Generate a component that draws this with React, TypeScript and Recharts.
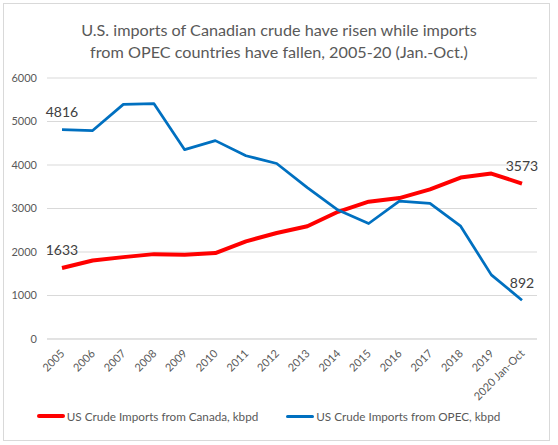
import React from "react";
import { CartesianGrid, LabelList, Legend, Line, LineChart, XAxis, YAxis } from "recharts";

const years = [
  "2005", "2006", "2007", "2008", "2009", "2010", "2011", "2012",
  "2013", "2014", "2015", "2016", "2017", "2018", "2019", "2020 Jan-Oct",
];
const canada = [1633, 1806, 1882, 1951, 1937, 1975, 2245, 2438, 2593, 2924, 3156, 3240, 3441, 3711, 3804, 3573];
const opec = [4816, 4792, 5394, 5409, 4352, 4560, 4213, 4035, 3480, 2963, 2655, 3171, 3118, 2593, 1474, 892];
const yTicks = [0, 1000, 2000, 3000, 4000, 5000, 6000];

const FONT = "Lato, 'Open Sans', sans-serif";
const TEXT = "#595959";
const RED = "#ff0000";
const BLUE = "#0070c0";

const data = years.map((year, i) => ({ year, canada: canada[i], opec: opec[i] }));
const last = years.length - 1;

const XTick = ({ x, y, payload }: any) => (
  <text
    x={x}
    y={y}
    transform={`rotate(-45, ${x}, ${y})`}
    textAnchor="end"
    dominantBaseline="central"
    fontSize={11}
    fontFamily={FONT}
    fill={TEXT}
  >
    {payload.value}
  </text>
);

// only first and last points carry a value label
const EndLabel = ({ x, y, value, index }: any) => {
  if (index !== 0 && index !== last) return null;
  return (
    <text x={x} y={y - 18} textAnchor="middle" dominantBaseline="central" fontSize={14} fontFamily={FONT} fill="#404040">
      {value}
    </text>
  );
};

const legendItems = [
  { label: "US Crude Imports from Canada, kbpd", color: RED, width: 4 },
  { label: "US Crude Imports from OPEC, kbpd", color: BLUE, width: 3 },
];

const LegendContent = () => (
  <div style={{ display: "flex", justifyContent: "center", gap: 28, height: 18, alignItems: "center" }}>
    {legendItems.map((item) => (
      <div key={item.label} style={{ display: "flex", alignItems: "center", fontFamily: FONT, fontSize: 11.7, color: TEXT }}>
        <span style={{ display: "inline-block", width: 28, height: item.width, background: item.color, borderRadius: 2, marginRight: 2 }} />
        {item.label}
      </div>
    ))}
  </div>
);

export default function App() {
  return (
    <div style={{ position: "absolute", left: 0, top: 0, width: 558, height: 445, background: "#fff" }}>
      <div style={{ position: "absolute", left: 3, top: 3, width: 545, height: 436, border: "1px solid #d9d9d9" }} />
      <div
        style={{
          position: "absolute",
          top: 19,
          left: 0,
          width: 558,
          textAlign: "center",
          fontFamily: FONT,
          fontSize: 16.2,
          lineHeight: "22px",
          color: TEXT,
        }}
      >
        U.S. imports of Canadian crude have risen while imports
        <br />
        from OPEC countries have fallen, 2005-20 (Jan.-Oct.)
      </div>
      <LineChart width={558} height={445} data={data} margin={{ top: 78, right: 21, left: 0, bottom: 20 }}>
        <CartesianGrid vertical={false} stroke="#d9d9d9" />
        <XAxis
          dataKey="year"
          interval={0}
          height={68}
          padding={{ left: 15, right: 15 }}
          tickLine={false}
          axisLine={{ stroke: "#d9d9d9" }}
          tick={<XTick />}
          tickMargin={6}
        />
        <YAxis
          width={47}
          domain={[0, 6000]}
          ticks={yTicks}
          axisLine={false}
          tickLine={false}
          tickSize={0}
          tickMargin={10}
          tick={{ fontSize: 11, fontFamily: FONT, fill: TEXT }}
        />
        <Legend verticalAlign="bottom" content={<LegendContent />} />
        <Line dataKey="canada" stroke={RED} strokeWidth={4} dot={false} isAnimationActive={false} strokeLinejoin="round">
          <LabelList dataKey="canada" content={<EndLabel />} />
        </Line>
        <Line dataKey="opec" stroke={BLUE} strokeWidth={2.75} dot={false} isAnimationActive={false} strokeLinejoin="round">
          <LabelList dataKey="opec" content={<EndLabel />} />
        </Line>
      </LineChart>
    </div>
  );
}
